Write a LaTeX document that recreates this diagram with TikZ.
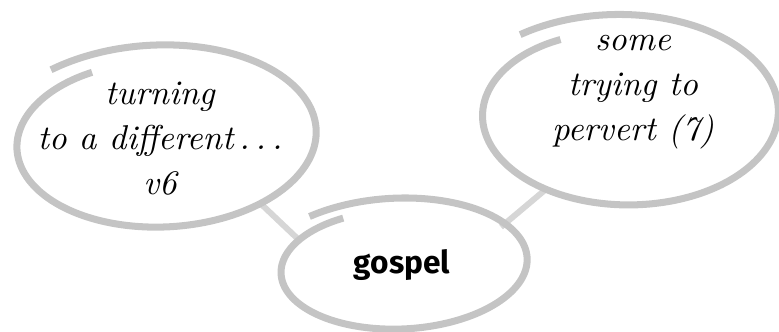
\documentclass[tikz,border=0pt]{standalone}
\usepackage{fontspec}
\newfontfamily\gospelfont{Fira Sans}
\usepackage{tikz}
\usetikzlibrary{calc}
\definecolor{bubblegray}{RGB}{196,196,196}
\definecolor{linkgray}{RGB}{214,214,214}

\begin{document}
\begin{tikzpicture}[
  bubble/.style={draw=bubblegray, line width=2pt},
  link/.style={draw=linkgray, line width=1.7pt},
  hand/.style={align=center, font=\fontsize{9.8}{12.8}\selectfont\itshape, inner sep=0pt},
  every node/.style={text=black}
]
\useasboundingbox (0,0) rectangle (7.79,3.32);

\node[hand] (turning) at (1.60,1.93) {turning\\to a different\,.\,.\,.\\v6};
\node[hand] (pervert) at (6.33,2.40) {some\\trying to\\pervert (7)};
\node[font=\gospelfont\bfseries\fontsize{9}{11}\selectfont, inner sep=0pt] (gospel) at (4.02,0.665) {gospel};

\coordinate (turning-se) at (2.60,1.29);
\coordinate (gospel-nw) at (2.99,0.92);
\coordinate (pervert-sw) at (5.45,1.42);
\coordinate (gospel-ne) at (5.01,1.05);

\draw[link] (turning-se) -- (gospel-nw);
\draw[link] (pervert-sw) -- (gospel-ne);

\foreach \cx/\cy/\rx/\ry/\tilt in {1.64/1.94/1.52/0.89/3, 6.28/2.20/1.50/0.93/0, 4.02/0.67/1.25/0.64/3}
  \draw[bubble, shift={(\cx,\cy)}, rotate=\tilt]
    plot[smooth, domain=0:1, samples=90]
    ({\rx*(1+0.1*(2*\x-1)*(2*\x-1)*(2*\x-1))*cos(120+371*\x)},
     {\ry*(1+0.1*(2*\x-1)*(2*\x-1)*(2*\x-1))*sin(120+371*\x)});
\end{tikzpicture}
\end{document}
